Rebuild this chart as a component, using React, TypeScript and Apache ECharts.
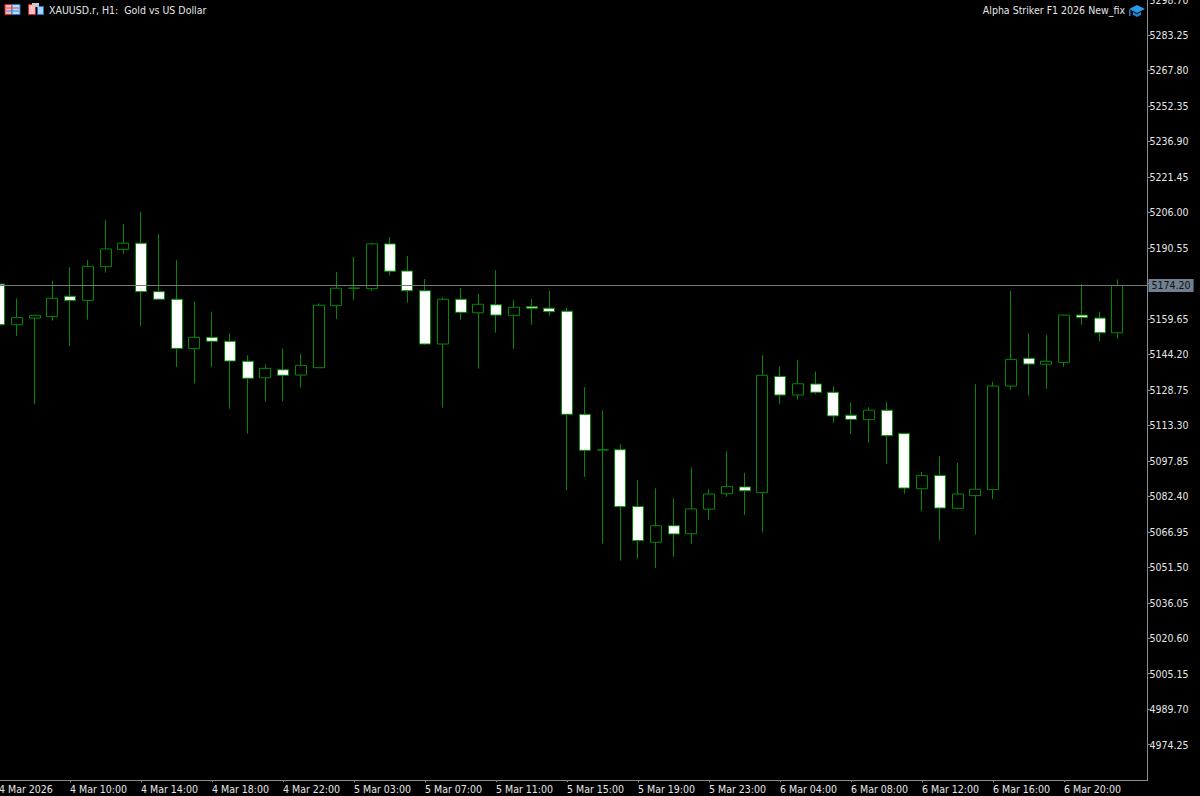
import React, { useEffect, useRef } from "react";
import * as echarts from "echarts";

const symbolTitle = "XAUUSD.r, H1:  Gold vs US Dollar";
const expertName = "Alpha Striker F1 2026 New_fix";
const lastPrice = 5174.2;

const timeLabels = [
  "4 Mar 2026", "4 Mar 10:00", "4 Mar 14:00", "4 Mar 18:00", "4 Mar 22:00", "5 Mar 03:00",
  "5 Mar 07:00", "5 Mar 11:00", "5 Mar 15:00", "5 Mar 19:00", "5 Mar 23:00", "6 Mar 04:00",
  "6 Mar 08:00", "6 Mar 12:00", "6 Mar 16:00", "6 Mar 20:00",
];

const opens = [
  5174.8, 5157.1, 5160.0, 5160.6, 5169.5, 5167.7, 5182.4, 5189.9, 5192.6, 5171.5, 5168.2, 5146.7, 5151.6, 5149.9, 5141.2, 5134.0,
  5137.5, 5135.2, 5138.4, 5165.4, 5173.0, 5172.8, 5192.3, 5180.5, 5171.9, 5148.7, 5168.2, 5162.3, 5165.8, 5161.2, 5165.0, 5164.3,
  5163.0, 5118.1, 5102.6, 5102.7, 5078.0, 5062.4, 5069.6, 5066.1, 5076.8, 5083.5, 5086.5, 5084.0, 5134.6, 5126.5, 5131.3, 5127.7,
  5117.7, 5115.8, 5119.9, 5109.7, 5085.7, 5091.5, 5077.2, 5082.7, 5085.3, 5130.4, 5142.5, 5139.9, 5140.7, 5161.3, 5160.0, 5153.6,
];
const closes = [
  5157.1, 5160.2, 5161.2, 5168.6, 5167.7, 5182.5, 5190.1, 5192.6, 5171.5, 5168.2, 5146.8, 5151.6, 5149.9, 5141.3, 5133.8, 5138.1,
  5135.1, 5139.4, 5165.6, 5173.0, 5173.0, 5192.3, 5180.4, 5171.9, 5148.7, 5168.2, 5162.5, 5166.0, 5161.3, 5164.7, 5164.3, 5162.8,
  5118.1, 5102.4, 5102.6, 5077.9, 5063.1, 5069.6, 5066.0, 5076.9, 5083.4, 5086.6, 5084.8, 5135.1, 5126.5, 5131.4, 5127.7, 5117.4,
  5115.9, 5119.9, 5108.8, 5086.0, 5091.4, 5077.3, 5083.4, 5085.5, 5130.4, 5142.0, 5140.0, 5141.2, 5161.3, 5160.2, 5153.6, 5174.2,
];
const lows = [
  5156.0, 5152.3, 5122.5, 5158.9, 5147.8, 5159.3, 5179.8, 5188.0, 5156.5, 5168.2, 5138.8, 5131.6, 5138.6, 5120.5, 5109.7, 5123.6,
  5123.9, 5129.7, 5138.4, 5159.6, 5167.9, 5171.9, 5178.6, 5166.7, 5148.4, 5121.0, 5159.2, 5138.0, 5153.6, 5146.5, 5157.1, 5160.9,
  5085.0, 5090.8, 5061.8, 5054.4, 5055.2, 5051.2, 5056.0, 5061.8, 5072.2, 5082.2, 5074.3, 5066.6, 5122.5, 5124.5, 5126.8, 5114.4,
  5109.4, 5105.7, 5096.6, 5083.5, 5075.9, 5063.1, 5076.7, 5065.7, 5081.2, 5128.7, 5126.2, 5129.2, 5138.8, 5157.0, 5149.9, 5151.0,
];
const highs = [
  5176.0, 5168.6, 5161.2, 5176.3, 5182.2, 5185.3, 5202.8, 5201.0, 5206.2, 5196.6, 5185.3, 5167.3, 5162.8, 5153.4, 5143.8, 5139.9,
  5146.8, 5144.4, 5166.4, 5180.1, 5186.6, 5192.8, 5195.3, 5187.0, 5177.0, 5169.0, 5173.0, 5170.5, 5180.9, 5167.9, 5168.3, 5171.8,
  5164.4, 5130.0, 5119.9, 5105.1, 5089.6, 5085.9, 5081.5, 5095.0, 5085.5, 5102.0, 5092.6, 5143.9, 5139.0, 5141.8, 5136.8, 5130.3,
  5123.2, 5121.2, 5123.3, 5109.7, 5093.0, 5100.0, 5096.9, 5131.2, 5132.3, 5171.8, 5153.4, 5152.6, 5161.5, 5174.8, 5162.8, 5176.9,
];

const labelEvery = 4;
const slotCount = opens.length + 1;
const categories = Array.from({ length: slotCount }, (_, i) =>
  i % labelEvery === 0 ? timeLabels[i / labelEvery] ?? "" : ""
);
const candles = opens.map((o, i) => [o, closes[i], lows[i], highs[i]]);

const priceMin = 4958.8;
const priceMax = 5298.7;
const priceStep = 15.45;

const FONT = '"DejaVu Sans Condensed", "Liberation Sans", sans-serif';
const GREEN = "#008a00";
const AXIS = "#8c8c8c";
const TEXT = "#e6e6e6";

const PLOT_TOP = -0.5;
const PLOT_H = 780.7;
const BAND = 17.75;

function buildOption() {
  return {
    animation: false,
    backgroundColor: "#000000",
    grid: [
      { left: -1 - BAND / 2, top: PLOT_TOP, width: BAND * slotCount, height: PLOT_H, outerBoundsMode: "none", containLabel: false },
      { left: 0, top: PLOT_TOP, width: 1147.5, height: PLOT_H, outerBoundsMode: "none", containLabel: false },
    ],
    xAxis: [
      {
        type: "category",
        gridIndex: 0,
        data: categories,
        boundaryGap: true,
        axisLine: { show: false },
        axisTick: {
          show: true,
          alignWithLabel: true,
          length: 2,
          interval: (i: number) => i % labelEvery === 0 && i < opens.length,
          lineStyle: { color: AXIS },
        },
        axisLabel: {
          interval: labelEvery - 1,
          align: "left",
          margin: 3,
          color: TEXT,
          fontFamily: FONT,
          fontSize: 10.5,
          hideOverlap: false,
        },
        splitLine: { show: false },
      },
      {
        type: "value",
        gridIndex: 1,
        min: 0,
        max: 1,
        axisLine: { show: true, onZero: false, lineStyle: { color: AXIS, width: 1 } },
        axisTick: { show: false },
        axisLabel: { show: false },
        splitLine: { show: false },
      },
    ],
    yAxis: [
      {
        type: "value",
        gridIndex: 0,
        show: false,
        min: priceMin,
        max: priceMax,
        interval: priceStep,
        splitLine: { show: false },
      },
      {
        type: "value",
        gridIndex: 1,
        position: "right",
        min: priceMin,
        max: priceMax,
        interval: priceStep,
        axisLine: { show: true, onZero: false, lineStyle: { color: AXIS, width: 1 } },
        axisTick: { show: true, length: 3, lineStyle: { color: AXIS } },
        axisLabel: {
          margin: 2,
          color: TEXT,
          fontFamily: FONT,
          fontSize: 10.5,
          showMinLabel: false,
          formatter: (v: number) => (Math.abs(v - 5175.1) < 0.01 ? "" : v.toFixed(2)),
        },
        splitLine: { show: false },
      },
    ],
    series: [
      {
        type: "candlestick",
        xAxisIndex: 0,
        yAxisIndex: 0,
        data: candles,
        barWidth: 11.5,
        itemStyle: {
          color: "#000000",
          color0: "#ffffff",
          borderColor: GREEN,
          borderColor0: GREEN,
          borderColorDoji: GREEN,
          borderWidth: 1,
        },
      },
      {
        type: "line",
        xAxisIndex: 1,
        yAxisIndex: 1,
        data: [],
        silent: true,
        markLine: {
          silent: true,
          symbol: "none",
          lineStyle: { color: "#777777", width: 1, type: "solid" },
          data: [{ yAxis: lastPrice }],
          label: {
            show: true,
            position: "end",
            distance: 1,
            formatter: () => lastPrice.toFixed(2),
            color: "#111111",
            fontFamily: FONT,
            fontSize: 10.5,
            backgroundColor: "#708090",
            padding: [1, 3, 1, 3],
          },
        },
      },
    ],
    graphic: [
      // left window icons
      { type: "rect", shape: { x: 5, y: 4.5, width: 7, height: 10 }, style: { fill: "#f8b8b8", stroke: "#e02020", lineWidth: 1 } },
      { type: "rect", shape: { x: 12, y: 4.5, width: 8, height: 10 }, style: { fill: "#b8dcf8", stroke: "#1878d0", lineWidth: 1 } },
      { type: "line", shape: { x1: 6, y1: 8, x2: 19, y2: 8 }, style: { stroke: "#e84040", lineWidth: 1 } },
      { type: "line", shape: { x1: 6, y1: 11, x2: 19, y2: 11 }, style: { stroke: "#3090e0", lineWidth: 1 } },
      { type: "rect", shape: { x: 28.5, y: 4.5, width: 7, height: 10 }, style: { fill: "#ffc0c0", stroke: "#e02020", lineWidth: 1 } },
      { type: "rect", shape: { x: 37.5, y: 6.5, width: 6, height: 8 }, style: { fill: "#a8d4f4", stroke: "#1878d0", lineWidth: 1 } },
      { type: "rect", shape: { x: 32, y: 3, width: 7, height: 4 }, style: { fill: "#c8c8c8" } },
      // title
      { type: "text", x: 49, y: 10, style: { text: symbolTitle, fill: TEXT, font: `10.5px ${FONT}`, textVerticalAlign: "middle" } },
      { type: "text", x: 1125, y: 10, style: { text: expertName, fill: TEXT, font: `10.5px ${FONT}`, textAlign: "right", textVerticalAlign: "middle" } },
      // expert cap icon
      { type: "polygon", shape: { points: [[1129, 9], [1137, 5], [1145, 9], [1137, 13]] }, style: { fill: "#2a9ae8" } },
      { type: "polygon", shape: { points: [[1133, 12], [1137, 14], [1141, 12], [1141, 15], [1137, 17], [1133, 15]] }, style: { fill: "#1f7fc8" } },
      { type: "rect", shape: { x: 1129, y: 10, width: 1.5, height: 6 }, style: { fill: "#1f7fc8" } },
    ],
  };
}

export default function App() {
  const ref = useRef<HTMLDivElement>(null);
  useEffect(() => {
    if (!ref.current) return;
    document.body.style.margin = "0";
    document.body.style.background = "#000";
    const chart = echarts.init(ref.current, undefined, { renderer: "svg" });
    chart.setOption(buildOption() as any);
    return () => chart.dispose();
  }, []);
  return <div ref={ref} style={{ width: 1200, height: 796, overflow: "hidden" }} />;
}
